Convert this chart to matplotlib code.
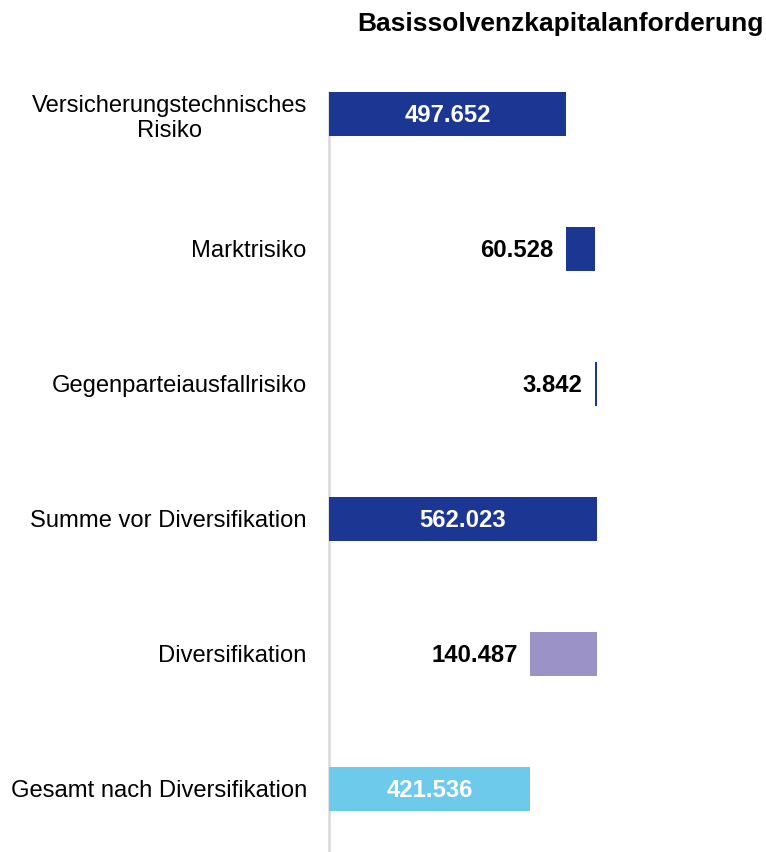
import numpy as np
import matplotlib.pyplot as plt

plt.rcParams['font.family'] = ['Liberation Sans', 'DejaVu Sans']

# data (in EUR thousand)
categories = ['Versicherungstechnisches\nRisiko', 'Marktrisiko', 'Gegenparteiausfallrisiko',
              'Summe vor Diversifikation', 'Diversifikation', 'Gesamt nach Diversifikation']
values = [497652, 60528, 3842, 562023, -140487, 421536]
is_total = [False, False, False, True, False, True]

dark_blue = '#1c3793'
lavender = '#9b93c7'
light_blue = '#6ecaea'
colors = [dark_blue, dark_blue, dark_blue, dark_blue, lavender, light_blue]

# waterfall starting points
starts = []
running = 0
for v, tot in zip(values, is_total):
    if tot:
        starts.append(0)
        running = v
    elif v >= 0:
        starts.append(running)
        running += v
    else:
        starts.append(running + v)
        running += v
widths = [abs(v) for v in values]

fig = plt.figure(figsize=(7.66, 8.52), dpi=100)
ax = fig.add_axes([329 / 766, 0, 437 / 766, 760 / 852])

y = np.arange(len(categories))
ax.barh(y, widths, left=starts, height=0.326, color=colors, zorder=3)

ax.set_xlim(0, 917000)
ax.set_ylim(5.467, -0.163)

def fmt(v):
    return f"{abs(v):,}".replace(",", ".")

for i, (s, w, v) in enumerate(zip(starts, widths, values)):
    if w > 300000:
        ax.text(s + w / 2, i + 0.01, fmt(v), ha='center', va='center', color='white',
                fontsize=17.2, fontweight='bold', zorder=4)
    else:
        ax.annotate(fmt(v), (s, i + 0.01), xytext=(-9, 0), textcoords='offset points',
                    ha='right', va='center', color='black', fontsize=17.2, fontweight='bold')

ax.set_yticks(y)
ax.set_yticklabels(categories, fontsize=17.1)
for t in ax.get_yticklabels():
    t.set_multialignment('center')
    t.set_linespacing(1.18)
ax.tick_params(axis='y', length=0, pad=16)
ax.set_xticks([])

for side in ['top', 'right', 'bottom']:
    ax.spines[side].set_visible(False)
ax.spines['left'].set_color('#d9d9d9')
ax.spines['left'].set_linewidth(1.8)

fig.text(764 / 766, 1 - 24 / 852, 'Basissolvenzkapitalanforderung', ha='right', va='center',
         fontsize=19, fontweight='bold')

fig.savefig('out.png', dpi=100)
